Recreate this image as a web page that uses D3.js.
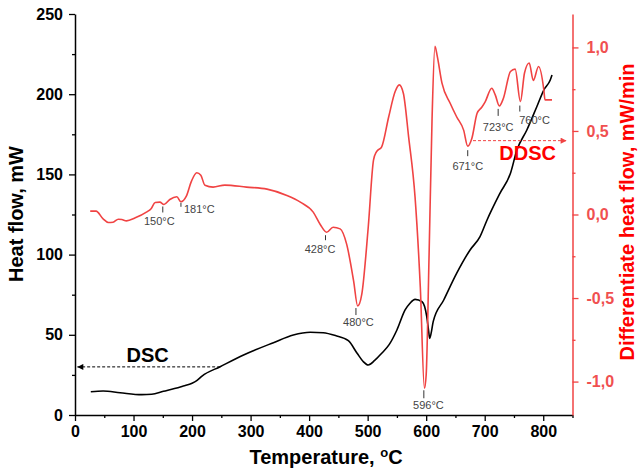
<!DOCTYPE html>
<html>
<head>
<meta charset="utf-8">
<script src="https://cdn.jsdelivr.net/npm/d3@7"></script>
<style>
  body { margin: 0; background: #fff; }
  svg { font-family: "Liberation Sans", Arial, sans-serif; }
</style>
</head>
<body>
<div id="chart"></div>
<script>
// DSC curve (left axis, mW)
var dscTemp  = [27, 48, 77, 114, 131, 151, 170, 185, 200, 208, 217, 248, 288, 339, 373, 402, 424, 445, 467, 482, 492, 501, 512, 524, 537, 550, 564, 572, 581, 593, 601, 604, 606, 609, 612, 630, 652, 675, 692, 704, 726, 744, 755, 772, 789, 801, 812, 815];
var dscValue = [14.5, 15.0, 13.9, 12.7, 12.9, 14.8, 16.5, 18.1, 19.8, 21.4, 24.3, 30.1, 37.4, 45.1, 49.9, 51.6, 51.3, 49.5, 46.3, 38.5, 33.5, 31.2, 34, 38.5, 44, 53, 65.5, 69.5, 72.1, 70.6, 61.3, 53, 47.8, 52, 58.2, 71.7, 88.3, 102.9, 111.2, 121.6, 138.2, 150.7, 165.2, 177.7, 192.2, 202.6, 208.9, 212];

// DDSC curve (right axis, mW/min)
var ddscTemp  = [26, 36, 48, 57, 65, 74, 80, 88, 103, 122, 130, 137, 145, 152, 162, 174, 181, 190, 199, 208, 215, 222, 236, 256, 293, 328, 362, 385, 407, 419, 430, 441, 453, 464, 476, 483, 490, 501, 510, 515, 524, 536, 547, 554, 561, 570, 581, 590, 597, 600, 605, 610, 615, 619, 627, 641, 652, 664, 671, 678, 687, 695, 701, 712, 718, 725, 732, 744, 752, 761, 768, 776, 783, 792, 801, 803, 815];
var ddscValue = [0.02, 0.02, -0.026, -0.048, -0.046, -0.028, -0.03, -0.038, -0.02, 0.014, 0.035, 0.072, 0.074, 0.06, 0.09, 0.106, 0.076, 0.108, 0.2, 0.25, 0.235, 0.175, 0.164, 0.176, 0.164, 0.152, 0.114, 0.074, 0.014, -0.06, -0.106, -0.076, -0.086, -0.176, -0.397, -0.548, -0.477, -0.076, 0.325, 0.375, 0.405, 0.585, 0.736, 0.776, 0.726, 0.465, 0.104, -0.437, -1.04, -0.96, -0.236, 0.566, 1.007, 0.946, 0.786, 0.666, 0.585, 0.505, 0.409, 0.455, 0.606, 0.642, 0.676, 0.756, 0.716, 0.65, 0.696, 0.856, 0.87, 0.676, 0.847, 0.907, 0.802, 0.886, 0.746, 0.686, 0.686];

// peak annotations on the DDSC curve
var peakTemp  = [150, 181, 428, 480, 596, 671, 723, 760];
var peakLabel = ["150°C", "181°C", "428°C", "480°C", "596°C", "671°C", "723°C", "760°C"];

// axis ticks
var xTicks = [0, 100, 200, 300, 400, 500, 600, 700, 800];
var xMinor = [50, 150, 250, 350, 450, 550, 650, 750, 850];
var leftTicks = [0, 50, 100, 150, 200, 250];
var leftMinor = [25, 75, 125, 175, 225];
var rightTicks = [-1, -0.5, 0, 0.5, 1];
var rightMinor = [-0.75, -0.25, 0.25, 0.75];
var rightTickLabels = ["-1,0", "-0,5", "0,0", "0,5", "1,0"];

// arrows pointing each curve to its axis
var dscArrowTemps = [248, 4];
var dscArrowLevel = 30;
var ddscArrowTemps = [680, 840];
var ddscArrowLevel = 0.442;

var width = 638, height = 471;
var red = "#f04343";

var svg = d3.select("#chart").append("svg")
    .attr("width", width)
    .attr("height", height);

var x = d3.scaleLinear().domain([0, 850]).range([75, 572.5]);
var yL = d3.scaleLinear().domain([0, 250]).range([415, 14]);
var yR = d3.scaleLinear().domain([-1.2, 1.2]).range([415, 14]);

var defs = svg.append("defs");
function arrowMarker(id, color) {
  defs.append("marker")
    .attr("id", id)
    .attr("viewBox", "0 0 10 10")
    .attr("refX", 10).attr("refY", 5)
    .attr("markerWidth", 8).attr("markerHeight", 6)
    .attr("markerUnits", "userSpaceOnUse")
    .attr("orient", "auto")
    .append("path")
    .attr("d", "M0,0L10,5L0,10Z")
    .attr("fill", color);
}
arrowMarker("arrowBlack", "#000");
arrowMarker("arrowRed", red);

function styleAxis(g, color) {
  g.selectAll("path.domain").attr("stroke", color).attr("stroke-width", 1.5);
  g.selectAll(".tick line").attr("stroke", color).attr("stroke-width", 1.3);
  g.selectAll(".tick text")
    .attr("fill", color)
    .style("font-size", "16px")
    .style("font-weight", "bold")
    .style("font-family", "'Liberation Sans', Arial, sans-serif");
}

// bottom axis
var gx = svg.append("g")
  .attr("transform", "translate(0,415)")
  .call(d3.axisBottom(x).tickValues(xTicks).tickSize(6).tickSizeOuter(0).tickPadding(5));
styleAxis(gx, "#000");
var gxm = svg.append("g")
  .attr("transform", "translate(0,415)")
  .call(d3.axisBottom(x).tickValues(xMinor).tickSize(3).tickFormat(""));
gxm.select("path.domain").remove();
styleAxis(gxm, "#000");

// left axis
var gl = svg.append("g")
  .attr("transform", "translate(75,0)")
  .call(d3.axisLeft(yL).tickValues(leftTicks).tickSize(6).tickSizeOuter(0).tickPadding(6));
styleAxis(gl, "#000");
var glm = svg.append("g")
  .attr("transform", "translate(75,0)")
  .call(d3.axisLeft(yL).tickValues(leftMinor).tickSize(3).tickFormat(""));
glm.select("path.domain").remove();
styleAxis(glm, "#000");

// right axis
var gr = svg.append("g")
  .attr("transform", "translate(572.5,0)")
  .call(d3.axisRight(yR).tickValues(rightTicks).tickSize(6).tickSizeOuter(0).tickPadding(8)
    .tickFormat(function(d, i) { return rightTickLabels[i]; }));
styleAxis(gr, red);
gr.selectAll(".tick text").attr("fill", "#f05050");
var grm = svg.append("g")
  .attr("transform", "translate(572.5,0)")
  .call(d3.axisRight(yR).tickValues(rightMinor).tickSize(3).tickFormat(""));
grm.select("path.domain").remove();
styleAxis(grm, red);

// curves
var dscLine = d3.line()
  .x(function(d, i) { return x(dscTemp[i]); })
  .y(function(d) { return yL(d); })
  .curve(d3.curveMonotoneX);
svg.append("path")
  .attr("d", dscLine(dscValue))
  .attr("fill", "none")
  .attr("stroke", "#000")
  .attr("stroke-width", 1.6);

var ddscLine = d3.line()
  .x(function(d, i) { return x(ddscTemp[i]); })
  .y(function(d) { return yR(d); })
  .curve(d3.curveMonotoneX);
svg.append("path")
  .attr("d", ddscLine(ddscValue))
  .attr("fill", "none")
  .attr("stroke", red)
  .attr("stroke-width", 1.6);

// peak markers: tick just under the local minimum, label below it
var peakGap  = [2, 1, 3, 2, 2, 4, 3, 4];
var peakLen  = [6, 4, 5, 7, 8, 6, 7, 6];
var peakDx   = [-3.5, 3, -5.5, 2.5, 4.6, 0, 0, 14.7];
var peakDy   = [20.5, 11, 21, 20, 21, 24, 25.5, 22];
var peakAnchor = ["middle", "start", "middle", "middle", "middle", "middle", "middle", "middle"];

peakTemp.forEach(function(t, k) {
  var v = d3.min(ddscTemp.map(function(tt, i) {
    return Math.abs(tt - t) <= 4 ? ddscValue[i] : Infinity;
  }));
  var px = x(t), py = yR(v);
  svg.append("line")
    .attr("x1", px).attr("x2", px)
    .attr("y1", py + peakGap[k]).attr("y2", py + peakGap[k] + peakLen[k])
    .attr("stroke", "#333").attr("stroke-width", 1);
  svg.append("text")
    .attr("x", px + peakDx[k])
    .attr("y", py + peakDy[k])
    .attr("text-anchor", peakAnchor[k])
    .attr("fill", "#444")
    .style("font-size", "11px")
    .text(peakLabel[k]);
});

// arrows
svg.append("line")
  .attr("x1", x(dscArrowTemps[0])).attr("x2", x(dscArrowTemps[1]))
  .attr("y1", yL(dscArrowLevel)).attr("y2", yL(dscArrowLevel))
  .attr("stroke", "#000").attr("stroke-width", 1)
  .attr("stroke-dasharray", "3,2")
  .attr("marker-end", "url(#arrowBlack)");
svg.append("line")
  .attr("x1", x(ddscArrowTemps[0])).attr("x2", x(ddscArrowTemps[1]))
  .attr("y1", yR(ddscArrowLevel)).attr("y2", yR(ddscArrowLevel))
  .attr("stroke", red).attr("stroke-width", 1)
  .attr("stroke-dasharray", "3,2")
  .attr("marker-end", "url(#arrowRed)");

svg.append("text")
  .attr("x", x(88)).attr("y", yL(33.2))
  .style("font-size", "20px").style("font-weight", "bold")
  .attr("fill", "#000")
  .text("DSC");
svg.append("text")
  .attr("x", x(725)).attr("y", yR(0.326))
  .style("font-size", "20px").style("font-weight", "bold")
  .attr("fill", "#ff0000")
  .text("DDSC");

// axis titles
var xt = svg.append("text")
  .attr("x", 326).attr("y", 464)
  .attr("text-anchor", "middle")
  .style("font-size", "20px").style("font-weight", "bold")
  .text("Temperature, ");
xt.append("tspan").attr("dy", -7).style("font-size", "13px").text("o");
xt.append("tspan").attr("dy", 7).text("C");

svg.append("text")
  .attr("transform", "translate(23,214) rotate(-90)")
  .attr("text-anchor", "middle")
  .style("font-size", "20px").style("font-weight", "bold")
  .text("Heat flow, mW");

svg.append("text")
  .attr("transform", "translate(634,212) rotate(-90)")
  .attr("text-anchor", "middle")
  .style("font-size", "20px").style("font-weight", "bold")
  .attr("fill", "#ff0000")
  .text("Differentiate heat flow, mW/min");
</script>
</body>
</html>
